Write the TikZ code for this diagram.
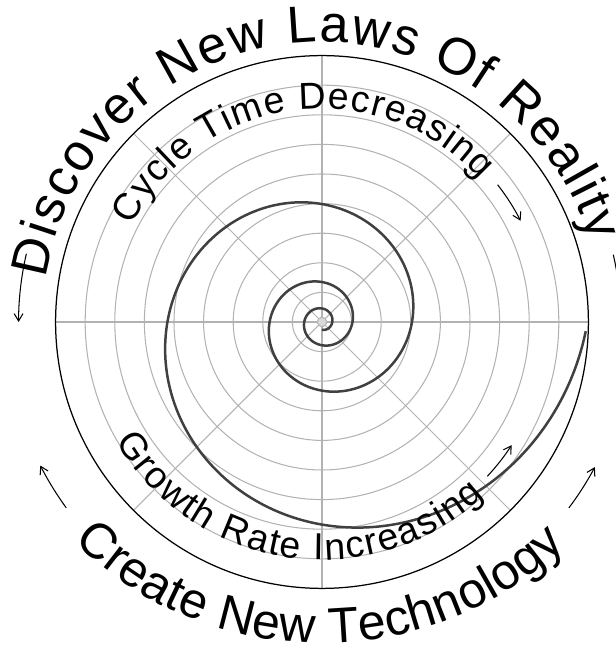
\documentclass[tikz,border=0pt]{standalone}
\usepackage{fontspec}
\setmainfont{Liberation Sans}
\usetikzlibrary{decorations.text,arrows.meta}

\newcommand\toparc{\fontsize{50}{54}\selectfont}
\newcommand\bottomarc{\fontsize{48}{52}\selectfont}
\newcommand\smallarc{\fontsize{36}{40}\selectfont}

\begin{document}
\begin{tikzpicture}[
    gridline/.style={black!30, line width=1pt},
    spiralline/.style={black!75, line width=2.4pt},
    turnarrow/.style={line width=1pt, -{Straight Barb[length=2.5mm,width=3mm]}},
    arctext/.style={decorate, decoration={text along path, text align=fit to path, text={#1}}}
]
    \useasboundingbox (-10.878,-11.115) rectangle (9.932,10.878);
    % polar grid
    \foreach \r in {1,...,8}
        \draw[gridline] (0,0) circle[radius=\r];
    \foreach \a in {0,45,...,315}
        \draw[gridline] (0,0) -- (\a:9);
    \draw[gridline, fill=black!15] (0,0) circle[radius=0.16];
    \draw[line width=1.2pt] (0,0) circle[radius=9];
    % spiral
    \draw[spiralline] plot[domain=-810:358, samples=400, smooth, variable=\t] (\t:{3.04*exp(0.003*\t)});
    % outer labels
    \path[arctext={|\toparc|Discover New Laws Of Reality}] (171:9.45) arc[start angle=171, end angle=16.5, radius=9.45];
    \path[arctext={|\bottomarc|Create New Technology}] (223:11.45cm and 10.85cm) arc[start angle=223, end angle=316, x radius=11.45, y radius=10.85];
    % inner labels
    \path[arctext={|\smallarc|Cycle Time Decreasing}] (153:7.2) arc[start angle=153, end angle=42, radius=7.2];
    \path[arctext={|\smallarc|Growth Rate Increasing}] (210:8.04) arc[start angle=210, end angle=313, radius=8.04];
    % direction arrows
    \draw[turnarrow] (167:10.25) arc[start angle=167, end angle=180, radius=10.25];
    \draw[turnarrow] (13:10.1) arc[start angle=13, end angle=1, radius=10.1];
    \draw[turnarrow] (216:10.68) arc[start angle=216, end angle=207, radius=10.68];
    \draw[turnarrow] (323:10.44) arc[start angle=323, end angle=332, radius=10.44];
    \draw[turnarrow] (38:7.53) arc[start angle=38, end angle=27, radius=7.53];
    \draw[turnarrow] (317:7.64) arc[start angle=317, end angle=327, radius=7.64];
\end{tikzpicture}
\end{document}
